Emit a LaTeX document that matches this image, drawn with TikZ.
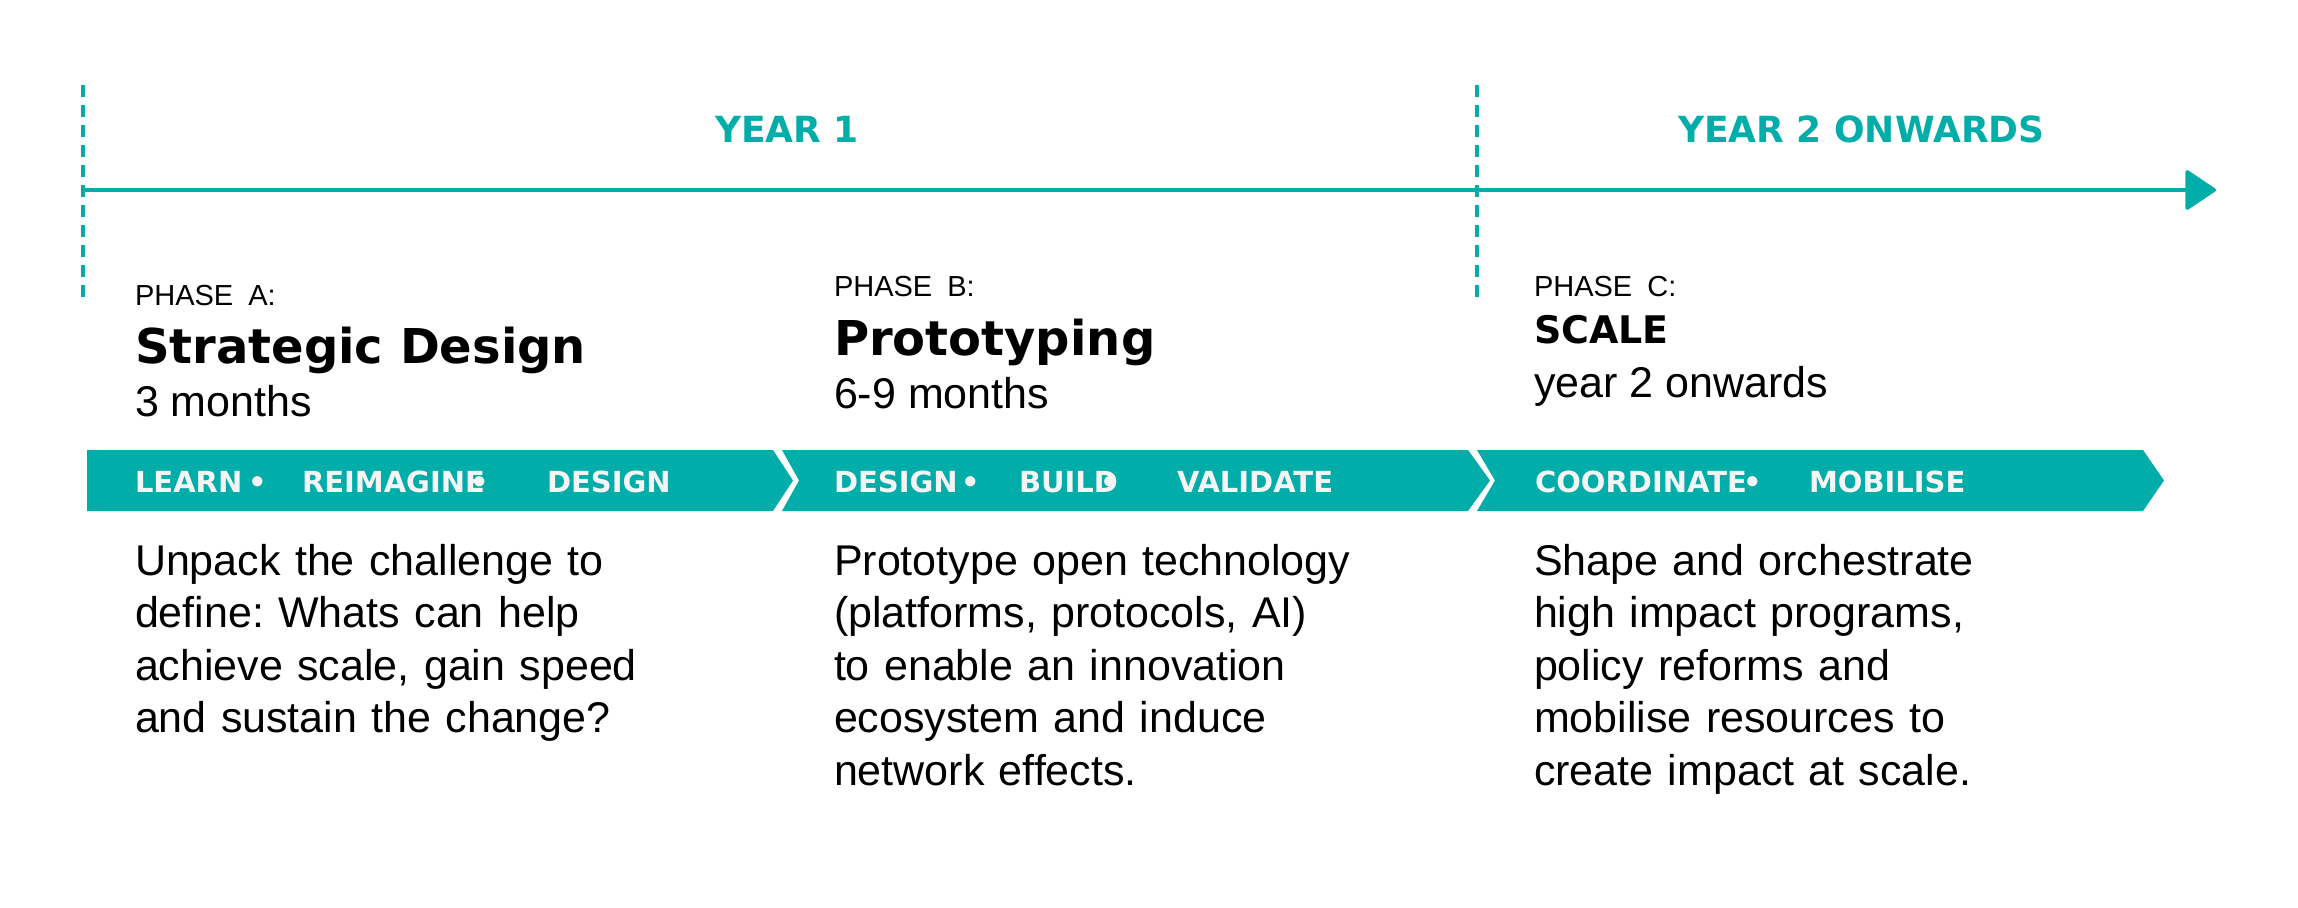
\documentclass[tikz,border=0pt]{standalone}
\usepackage{fontspec}
\setmainfont{Liberation Sans}
\newfontfamily\headfont{DejaVu Sans}
\usetikzlibrary{arrows.meta}
\frenchspacing

\definecolor{brandteal}{HTML}{00ADA9}
\definecolor{bandtext}{HTML}{F5F5F5}

\tikzset{
  timeline/.style={draw=brandteal, line width=3.5pt},
  divider/.style={draw=brandteal, line width=3.5pt, dash pattern=on 12pt off 8pt},
  bandseg/.style={fill=brandteal},
  txt/.style={anchor=base west, inner sep=0pt, outer sep=0pt},
  yearlabel/.style={txt, text=brandteal, font=\headfont\bfseries\fontsize{36}{43}\selectfont},
  bandlabel/.style={txt, text=bandtext, font=\headfont\bfseries\fontsize{29}{34}\selectfont},
  phaselabel/.style={txt, font=\fontsize{29}{34}\selectfont},
  phasetitle/.style={txt, font=\headfont\bfseries\fontsize{48}{56}\selectfont},
  scaletitle/.style={txt, font=\headfont\bfseries\fontsize{38}{45}\selectfont},
  duration/.style={txt, font=\fontsize{43}{52}\selectfont},
  body/.style={txt, text width=700pt, align=left, font=\fontsize{43}{52.6}\selectfont},
}

\begin{document}
\begin{tikzpicture}[x=1pt, y=-1pt]
\useasboundingbox (0,0) rectangle (2298,907);

% time axis and year dividers
\coordinate (axisstart) at (83,190);
\coordinate (axisend) at (2216,190);
\draw[timeline, -{Triangle[length=32pt, width=42pt, round]}] (axisstart) -- (axisend);

\coordinate (div1top) at (83,85);
\coordinate (div1bot) at (83,297);
\coordinate (div2top) at (1477,85);
\coordinate (div2bot) at (1477,297);
\draw[divider] (div1top) -- (div1bot);
\draw[divider] (div2top) -- (div2bot);

\node[yearlabel] (year1) at (715,142) {YEAR 1};
\node[yearlabel] (year2) at (1678,142) {YEAR 2 ONWARDS};

% phase headings
\node[phaselabel] (phA) at (135,305) {PHASE\hspace{15pt}A:};
\node[phasetitle] (titleA) at (135,363) {Strategic Design};
\node[duration] (durA) at (135,416) {3 months};

\node[phaselabel] (phB) at (834,296) {PHASE\hspace{15pt}B:};
\node[phasetitle] (titleB) at (834,355) {Prototyping};
\node[duration] (durB) at (834,408) {6-9 months};

\node[phaselabel] (phC) at (1534,296) {PHASE\hspace{15pt}C:};
\node[scaletitle] (titleC) at (1534,343) {SCALE};
\node[duration] (durC) at (1534,397) {year 2 onwards};

% chevron band
\fill[bandseg] (87,450) -- (773,450) -- (793,480.5) -- (773,511) -- (87,511) -- cycle;
\fill[bandseg] (782,450) -- (1468,450) -- (1490,480.5) -- (1468,511) -- (782,511) -- (799,480.5) -- cycle;
\fill[bandseg] (1477,450) -- (2143,450) -- (2164,480.5) -- (2143,511) -- (1477,511) -- (1495,480.5) -- cycle;

% band labels
\node[bandlabel] (learn) at (135,492) {LEARN};
\node[bandlabel] (dotA1) at (248,492) {•};
\node[bandlabel] (reimagine) at (302,492) {REIMAGINE};
\node[bandlabel] (dotA2) at (470,492) {•};
\node[bandlabel] (designA) at (547,492) {DESIGN};

\node[bandlabel] (designB) at (834,492) {DESIGN};
\node[bandlabel] (dotB1) at (961,492) {•};
\node[bandlabel] (build) at (1019,492) {BUILD};
\node[bandlabel] (dotB2) at (1100,492) {•};
\node[bandlabel] (validate) at (1177,492) {VALIDATE};

\node[bandlabel] (coordinate) at (1535,492) {COORDINATE};
\node[bandlabel] (dotC1) at (1743,492) {•};
\node[bandlabel] (mobilise) at (1809,492) {MOBILISE};

% descriptions
\node[body] (bodyA) at (135,575) {Unpack the challenge to\\define: Whats can help\\achieve scale, gain speed\\and sustain the change?};
\node[body] (bodyB) at (834,575) {Prototype open technology\\(platforms, protocols, AI)\\to enable an innovation\\ecosystem and induce\\network effects.};
\node[body] (bodyC) at (1534,575) {Shape and orchestrate\\high impact programs,\\policy reforms and\\mobilise resources to\\create impact at scale.};
\end{tikzpicture}
\end{document}
